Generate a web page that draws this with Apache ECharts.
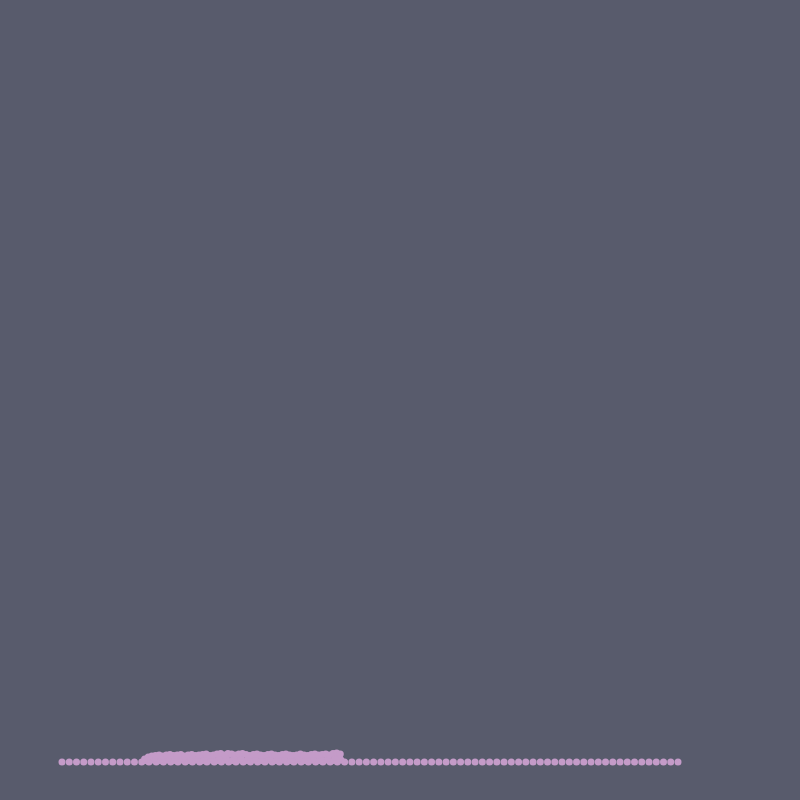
<!DOCTYPE html>
<html>
<head>
<meta charset="utf-8">
<script src="https://cdn.jsdelivr.net/npm/echarts@6/dist/echarts.min.js"></script>
<style>html,body{margin:0;padding:0;background:#585b6c;}#c{width:800px;height:800px;}</style>
</head>
<body>
<div id="c"></div>
<script>
// Baseline row of points (x position, value 0)
const baseX = [0,1,2,3,4,5,6,7,8,9,10,11,12,13,14,15,16,17,18,19,20,21,22,23,24,25,26,27,28,29,30,31,32,33,34,35,36,37,38,39,40,41,42,43,44,45,46,47,48,49,50,51,52,53,54,55,56,57,58,59,60,61,62,63,64,65,66,67,68,69,70,71,72,73,74,75,76,77,78,79,80,81,82,83,84,85];
const baseY = 0;
// Dense cluster: upper layer
const upperX = [11.4,11.9,12.4,12.9,13.4,13.9,14.4,14.9,15.4,15.9,16.4,16.9,17.4,17.9,18.4,18.9,19.4,19.9,20.4,20.9,21.4,21.9,22.4,22.9,23.4,23.9,24.4,24.9,25.4,25.9,26.4,26.9,27.4,27.9,28.4,28.9,29.4,29.9,30.4,30.9,31.4,31.9,32.4,32.9,33.4,33.9,34.4,34.9,35.4,35.9,36.4,36.9,37.4,37.9,38.4];
const upperY = [3,5,6,6.5,7,6,7,7.5,6.5,7,7.5,6,7,7.5,6.5,7,7.5,8,6.5,7,8,8.5,7,8.5,8,7,8,8.5,7.5,6.5,7.5,8,7,6.5,7.5,8,7,6.5,7.5,8,7,6.5,7,8,7,6.5,7.5,8,7,7.5,8,7,8.5,9,8];
// Dense cluster: middle layer
const midX = [11.7,12.7,13.7,14.7,15.7,16.7,17.7,18.7,19.7,20.7,21.7,22.7,23.7,24.7,25.7,26.7,27.7,28.7,29.7,30.7,31.7,32.7,33.7,34.7,35.7,36.7,37.7,38.3];
const midY = [2.5,4,4.5,4,4.5,4,4.5,4,4.5,4,4.5,4,4.5,4,4.5,4,4.5,4,4.5,4,4.5,4,4.5,4,4.5,4,4.5,4];
// Dense cluster: lower layer
const lowerX = [11.5,12.5,13.5,14.5,15.5,16.5,17.5,18.5,19.5,20.5,21.5,22.5,23.5,24.5,25.5,26.5,27.5,28.5,29.5,30.5,31.5,32.5,33.5,34.5,35.5,36.5,37.5,38.5];
const lowerY = [1.5,2,1.5,2,1.5,2,1.5,2,1.5,2,1.5,2,1.5,2,1.5,2,1.5,2,1.5,2,1.5,2,1.5,2,1.5,2,1.5,2];

const pts = [];
baseX.forEach(x => pts.push([x, baseY]));
lowerX.forEach((x, i) => pts.push([x, lowerY[i]]));
midX.forEach((x, i) => pts.push([x, midY[i]]));
upperX.forEach((x, i) => pts.push([x, upperY[i]]));

const chart = echarts.init(document.getElementById('c'), null, {renderer: 'canvas'});
chart.setOption({
  backgroundColor: '#585b6c',
  animation: false,
  grid: {left: 62, right: 122, top: 62, bottom: 38},
  xAxis: {type: 'value', min: 0, max: 85, show: false},
  yAxis: {type: 'value', min: 0, max: 700, show: false},
  series: [{
    type: 'scatter',
    data: pts,
    symbolSize: 7,
    itemStyle: {color: '#c49bc8', opacity: 1, borderWidth: 0}
  }]
});
</script>
</body>
</html>
